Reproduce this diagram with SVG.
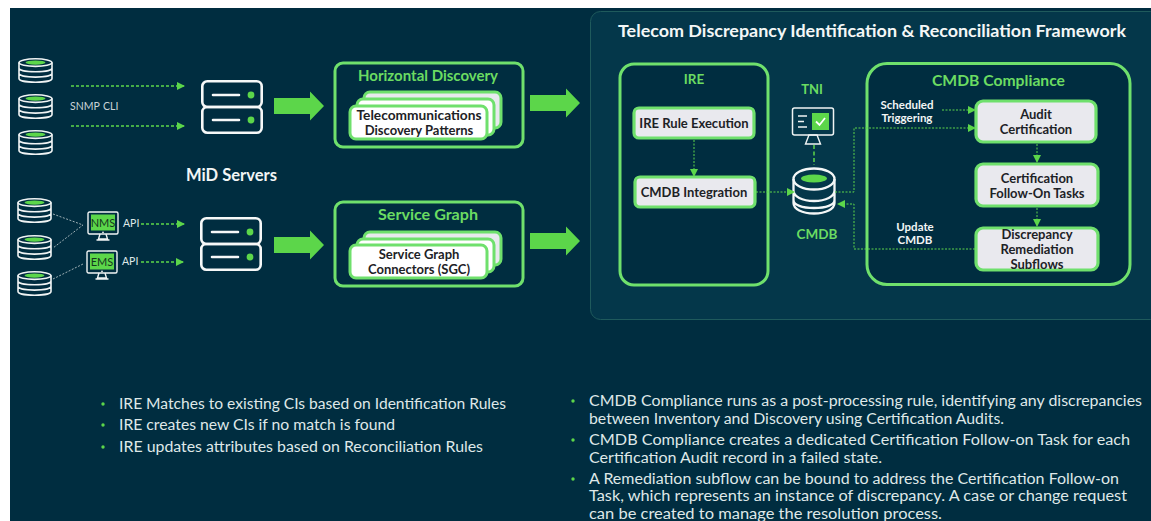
<svg xmlns="http://www.w3.org/2000/svg" width="1151" height="521" viewBox="0 0 1151 521">
<style>
text{font-family:"Lato","Liberation Sans",sans-serif}
.g{fill:#6bdc62;font-weight:700}
.w{fill:#f2f5f5;font-weight:700}
.d{fill:#1d2226;font-weight:700;text-anchor:middle;font-size:13px}
.m{text-anchor:middle}
.b{fill:#dfe8e8;font-size:15.5px}
.dot{fill:#5cd64a}
.box{fill:#002d40;stroke:#6fe06c;stroke-width:3}
.card{fill:#e9e9ee;stroke:#6fe06c;stroke-width:3.2}
.cw{fill:#fff;stroke:#6fe06c;stroke-width:3}
.ar{fill:#5cd64a}
.c{fill:none;stroke:#5cd64a;stroke-width:1;stroke-dasharray:2 1.5}
.c2{fill:none;stroke:#5cd64a;stroke-width:1.5;stroke-dasharray:3 2}
.l{stroke:#9fb0b5;stroke-width:1;stroke-dasharray:2 1.5;fill:none}
</style>
<defs>
<marker id="a" markerWidth="8" markerHeight="8" refX="7" refY="4" orient="auto" markerUnits="userSpaceOnUse"><path d="M0 0L8 4L0 8Z" fill="#5cd64a"/></marker>
<symbol id="db" viewBox="0 0 35 25" overflow="visible"><g fill="none" stroke="#f0f4f4" stroke-width="1.6"><ellipse cx="17.5" cy="4.6" rx="16.5" ry="3.8"/><path d="M1 4.6V20.4C1 22.5 8 24.2 17.5 24.2S34 22.5 34 20.4V4.6M1 10C1 12.1 8 13.8 17.5 13.8S34 12.1 34 10M1 15.3C1 17.4 8 19.1 17.5 19.1S34 17.4 34 15.3"/></g><ellipse cx="17.5" cy="4.6" rx="10" ry="2.1" fill="#5cd64a"/></symbol>
<symbol id="srv" viewBox="0 0 62 54" overflow="visible"><g fill="none" stroke="#f6f8f8" stroke-width="2.6" stroke-linecap="round"><rect x="1.3" y="1.3" width="59.4" height="25.7" rx="5"/><rect x="1.3" y="27" width="59.4" height="25.7" rx="5"/><path d="M12 15H38M12 40H38"/></g><circle cx="50" cy="15" r="3.4" fill="#5cd64a"/><circle cx="50" cy="40" r="3.4" fill="#5cd64a"/></symbol>
<symbol id="mon" viewBox="0 0 32 30" overflow="visible"><rect x="1" y="1" width="30" height="22" rx="1.5" fill="none" stroke="#f0f4f4" stroke-width="1.4"/><rect x="4" y="3.5" width="24" height="16" fill="#5cd64a"/><circle cx="16" cy="21.3" r=".9" fill="#f0f4f4"/><path d="M13 23L11.5 28H20.5L19 23M9.5 29H22.5" fill="none" stroke="#f0f4f4" stroke-width="1.4"/></symbol>
<path id="big" d="M0 -8H36V-14.5L50 0L36 14.5V8H0Z" class="ar"/>
</defs>
<rect width="1151" height="521" fill="#fff"/>
<rect x="10" y="8" width="1141" height="513" fill="#002d40"/>
<rect x="590.500" y="11.500" width="570" height="308" rx="10" fill="#04374a" stroke="#1f5a5c" stroke-width="1"/>
<text x="618" y="37" font-size="17" font-weight="700" fill="#f4f7f7" textLength="508" lengthAdjust="spacingAndGlyphs">Telecom Discrepancy Identification &amp; Reconciliation Framework</text>

<g id="sources"><use href="#db" x="18" y="58" width="35" height="25"/><use href="#db" x="18" y="94" width="35" height="25"/><use href="#db" x="18" y="130" width="35" height="25"/><use href="#db" x="17" y="198" width="35" height="25"/><use href="#db" x="17" y="235" width="35" height="25"/><use href="#db" x="17" y="271" width="35" height="25"/></g>
<text x="70" y="110" font-size="10.500" fill="#c9d4d7">SNMP</text><text x="103" y="110" font-size="10.500" fill="#c9d4d7">CLI</text>
<g id="nms"><use href="#mon" x="87" y="211" width="32" height="30"/><text x="103" y="227" class="m" font-size="11" fill="#14361f">NMS</text></g>
<g id="ems"><use href="#mon" x="86" y="250" width="32" height="30"/><text x="102" y="266" class="m" font-size="11" fill="#14361f">EMS</text></g>
<text x="123" y="227" font-size="10.500" fill="#dfe8e8">API</text><text x="122" y="265" font-size="10.500" fill="#dfe8e8">API</text>
<g id="mid-servers"><use href="#srv" x="201" y="80" width="62" height="54"/><use href="#srv" x="200" y="217" width="62" height="54"/><text x="186" y="181" class="w" font-size="16.500" textLength="91" lengthAdjust="spacingAndGlyphs">MiD Servers</text></g>

<g id="horizontal-discovery"><rect class="box" x="335" y="63" width="188" height="84" rx="8"/><text x="358" y="81" class="g" font-size="15" textLength="140" lengthAdjust="spacingAndGlyphs">Horizontal Discovery</text>
<rect x="364" y="92" width="137" height="36" rx="6" fill="#e9e9ee" stroke="#6fe06c" stroke-width="3"/><rect class="cw" x="357" y="99" width="137" height="36" rx="6"/><rect class="cw" x="350" y="106" width="137" height="33" rx="6"/>
<text x="419" y="120" class="d" textLength="125" lengthAdjust="spacingAndGlyphs">Telecommunications</text><text x="419" y="135" class="d">Discovery Patterns</text></g>
<g id="service-graph"><rect class="box" x="335" y="202" width="188" height="84" rx="8"/><text x="378" y="220" class="g" font-size="15.500" textLength="100" lengthAdjust="spacingAndGlyphs">Service Graph</text>
<rect x="364" y="232" width="137" height="33" rx="6" fill="#e9e9ee" stroke="#6fe06c" stroke-width="3"/><rect class="cw" x="357" y="239" width="137" height="33" rx="6"/><rect class="cw" x="350" y="245" width="137" height="33" rx="6"/>
<text x="419" y="259" class="d">Service Graph</text><text x="419" y="274" class="d">Connectors (SGC)</text></g>

<g id="ire"><rect class="box" x="620" y="64" width="148" height="221" rx="14"/><text x="694" y="84" class="m g" font-size="13.500">IRE</text></g>
<g id="ire-rule"><rect class="card" x="634" y="108" width="120" height="30" rx="5"/><text x="694" y="128" class="d">IRE Rule Execution</text></g>
<g id="cmdb-integration"><rect class="card" x="635" y="177" width="120" height="30" rx="5"/><text x="694" y="197" class="d">CMDB Integration</text></g>

<g id="tni"><text x="812" y="94" class="m g" font-size="13">TNI</text><rect x="792.500" y="108" width="41" height="27" rx="2" fill="none" stroke="#f0f4f4" stroke-width="1.500"/><rect x="812" y="113" width="17" height="17" fill="#5cd64a"/><path d="M816 121.500L819.500 125L825 118" fill="none" stroke="#fff" stroke-width="1.800"/><path d="M798 116H807M798 121.500H804M798 127H807" stroke="#f0f4f4" stroke-width="1.500"/><path d="M809 135L805.500 144H820.500L817 135Z" fill="none" stroke="#f0f4f4" stroke-width="1.400"/></g>
<g id="cmdb"><g fill="none" stroke="#f4f7f7" stroke-width="2.300"><ellipse cx="814" cy="179" rx="20.500" ry="10.500"/><path d="M793.500 179V203C793.500 209 802 213.500 814 213.500S834.500 209 834.500 203V179M793.500 190.500C793.500 196.500 802 201 814 201S834.500 196.500 834.500 190.500M793.500 200C793.500 205 802 208 814 208S834.500 205 834.500 200" /></g><ellipse cx="814" cy="178.500" rx="13" ry="4" fill="#5cd64a"/><text x="817" y="239" class="m g" font-size="13.500">CMDB</text></g>

<g id="cmdb-compliance"><rect class="box" x="867" y="63.500" width="263" height="221" rx="20"/><text x="932" y="86" class="g" font-size="15.500" textLength="133" lengthAdjust="spacingAndGlyphs">CMDB Compliance</text></g>
<g id="audit"><rect class="card" x="976" y="101" width="120" height="41" rx="7"/><text x="1036" y="119" class="d">Audit</text><text x="1036" y="134" class="d">Certification</text></g>
<g id="followon"><rect class="card" x="976" y="164" width="122" height="42" rx="7"/><text x="1037" y="183" class="d">Certification</text><text x="1037" y="198" class="d">Follow-On Tasks</text></g>
<g id="remediation"><rect class="card" x="976" y="228" width="122" height="42" rx="7"/><text x="1037" y="239" class="d">Discrepancy</text><text x="1037" y="254" class="d">Remediation</text><text x="1037" y="269" class="d">Subflows</text></g>
<g font-size="12" class="w"><text x="907" y="109" class="m" font-size="11.500">Scheduled</text><text x="907" y="122" class="m" font-size="11.500">Triggering</text><text x="915" y="231" class="m" font-size="11.500">Update</text><text x="915" y="244" class="m" font-size="11.500">CMDB</text></g>

<g id="connectors">
<path class="c2" d="M71 86H184" marker-end="url(#a)"/>
<path class="c2" d="M71 126H184" marker-end="url(#a)"/>
<path class="c2" d="M141 224H184" marker-end="url(#a)"/>
<path class="c2" d="M141 262H183" marker-end="url(#a)"/>
<path class="l" d="M53 214L83 225L53 248M53 279L83 264"/>
<path class="c" d="M694 140V176" marker-end="url(#a)"/>
<path class="c" d="M756 192H794" marker-end="url(#a)"/>
<path class="c" d="M835 192H854V128H975" marker-end="url(#a)"/>
<path class="c" d="M975 249H854V204H838" marker-end="url(#a)"/>
<path class="c" d="M942 110H975" marker-end="url(#a)"/>
<path class="c" d="M1037 144V162" marker-end="url(#a)"/>
<path class="c" d="M1037 208V226" marker-end="url(#a)"/>
<path d="M814 145V165" fill="none" stroke="#5cd64a" stroke-width="1.500" stroke-dasharray="4 2.500"/>
<use href="#big" x="274" y="106"/><use href="#big" x="274" y="245"/>
<use href="#big" x="530" y="103"/><use href="#big" x="530" y="241"/>
</g>

<g id="notes" class="b">
<text x="119" y="409" textLength="387" lengthAdjust="spacingAndGlyphs">IRE Matches to existing CIs based on Identification Rules</text>
<text x="119" y="430" textLength="276" lengthAdjust="spacingAndGlyphs">IRE creates new CIs if no match is found</text>
<text x="119" y="452" textLength="364" lengthAdjust="spacingAndGlyphs">IRE updates attributes based on Reconciliation Rules</text>
<text x="589" y="406" textLength="553" lengthAdjust="spacingAndGlyphs">CMDB Compliance runs as a post-processing rule, identifying any discrepancies</text>
<text x="589" y="424" textLength="415" lengthAdjust="spacingAndGlyphs">between Inventory and Discovery using Certification Audits.</text>
<text x="589" y="445" textLength="541" lengthAdjust="spacingAndGlyphs">CMDB Compliance creates a dedicated Certification Follow-on Task for each</text>
<text x="589" y="463" textLength="293" lengthAdjust="spacingAndGlyphs">Certification Audit record in a failed state.</text>
<text x="589" y="484" textLength="530" lengthAdjust="spacingAndGlyphs">A Remediation subflow can be bound to address the Certification Follow-on</text>
<text x="589" y="501" textLength="538" lengthAdjust="spacingAndGlyphs">Task, which represents an instance of discrepancy. A case or change request</text>
<text x="589" y="519" textLength="353" lengthAdjust="spacingAndGlyphs">can be created to manage the resolution process.</text>
<circle class="dot" cx="103" cy="404" r="1.700"/><circle class="dot" cx="103" cy="425" r="1.700"/><circle class="dot" cx="103" cy="447" r="1.700"/><circle class="dot" cx="573" cy="401" r="1.700"/><circle class="dot" cx="573" cy="440" r="1.700"/><circle class="dot" cx="573" cy="479" r="1.700"/>
</g>
</svg>
